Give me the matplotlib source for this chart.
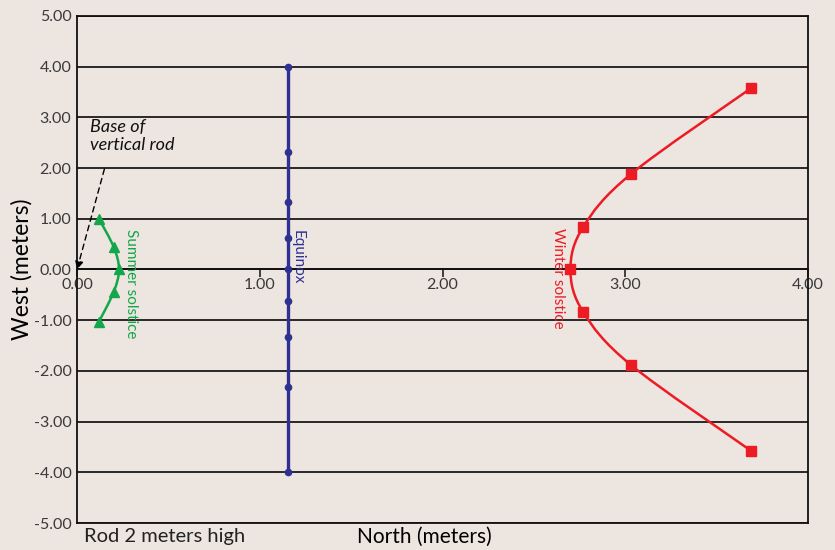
import matplotlib
matplotlib.use("Agg")
import matplotlib.pyplot as plt
import numpy as np
from matplotlib.path import Path
from matplotlib.patches import PathPatch

# shadow tip positions of a 2 m rod (x = north, y = west)
equinox_x = [1.155] * 9
equinox_y = [4.00, 2.31, 1.33, 0.62, 0.00, -0.62, -1.33, -2.31, -4.00]

summer_x = [0.12, 0.20, 0.23, 0.20, 0.12]
summer_y = [1.00, 0.45, 0.00, -0.45, -1.03]

winter_x = [3.69, 3.03, 2.77, 2.70, 2.77, 3.03, 3.69]
winter_y = [3.58, 1.88, 0.84, 0.00, -0.84, -1.88, -3.58]

y_ticks = list(range(-5, 6))
x_ticks = [0, 1, 2, 3, 4]

BG = '#ece5e0'
GREEN = '#14a64a'
RED = '#ed1c24'
NAVY = '#2e3192'
FONT = 'Lato'


def smooth_path(xs, ys):
    # Catmull-Rom style bezier through the points, drawn by matplotlib's Path
    pts = np.column_stack([xs, ys])
    verts = [pts[0]]
    codes = [Path.MOVETO]
    n = len(pts)
    for i in range(n - 1):
        p0 = pts[max(i - 1, 0)]
        p1 = pts[i]
        p2 = pts[i + 1]
        p3 = pts[min(i + 2, n - 1)]
        c1 = p1 + (p2 - p0) / 6.0
        c2 = p2 - (p3 - p1) / 6.0
        verts += [c1, c2, p2]
        codes += [Path.CURVE4] * 3
    return Path(verts, codes)


fig = plt.figure(figsize=(8.35, 5.5), dpi=100, facecolor=BG)
ax = fig.add_axes([0.0922, 0.049, 0.8755, 0.922])
ax.set_facecolor(BG)
ax.set_xlim(0, 4)
ax.set_ylim(-5, 5)

for sp in ax.spines.values():
    sp.set_color('#111111')
    sp.set_linewidth(1.3)
# x axis runs along the zero line, frame bottom kept as a line at -5
ax.spines['bottom'].set_position(('data', 0))
ax.axhline(-5, color='#111111', linewidth=1.3, clip_on=False, zorder=2)

ax.set_yticks(y_ticks)
ax.set_yticklabels([f'{v:.2f}' for v in y_ticks], fontfamily=FONT, fontsize=11.5, color='#3a3a3a')
ax.tick_params(axis='y', length=0, pad=4)

ax.set_xticks(x_ticks)
ax.set_xticklabels([f'{v:.2f}' for v in x_ticks], fontfamily=FONT, fontsize=11.5, color='#3a3a3a')
ax.tick_params(axis='x', length=6, width=1.2, direction='out', pad=0, color='#222222')

ax.grid(axis='y', color='#1a1a1a', linewidth=1.3)
ax.set_axisbelow(True)

# equinox
ax.plot(equinox_x, equinox_y, color=NAVY, linewidth=2.4, marker='o', markersize=4.5, zorder=3)

# summer solstice
ax.add_patch(PathPatch(smooth_path(summer_x, summer_y), facecolor='none', edgecolor=GREEN, linewidth=1.8, zorder=3))
ax.plot(summer_x, summer_y, linestyle='none', marker='^', markersize=7, color=GREEN, zorder=4)

# winter solstice
ax.add_patch(PathPatch(smooth_path(winter_x, winter_y), facecolor='none', edgecolor=RED, linewidth=1.8, zorder=3))
ax.plot(winter_x, winter_y, linestyle='none', marker='s', markersize=6.5, color=RED, zorder=4)

ax.text(0.295, -0.28, 'Summer solstice', rotation=270, color=GREEN, fontfamily=FONT,
        fontsize=11, ha='center', va='center')
ax.text(1.205, 0.25, 'Equinox', rotation=270, color=NAVY, fontfamily=FONT,
        fontsize=11, ha='center', va='center')
ax.text(2.63, -0.18, 'Winter solstice', rotation=270, color=RED, fontfamily=FONT,
        fontsize=11, ha='center', va='center')

ax.text(0.07, 2.63, 'Base of\nvertical rod', fontfamily=FONT, fontstyle='italic', fontsize=13,
        color='#111111', ha='left', va='center', linespacing=1.2)
ax.annotate('', xy=(0.0, 0.0), xytext=(0.15, 1.98),
            arrowprops=dict(arrowstyle='-|>', linestyle=(0, (4, 3)), color='black',
                            linewidth=1.0, mutation_scale=12, shrinkA=0, shrinkB=0))

fig.text(0.026, 0.511, 'West (meters)', rotation=90, fontfamily=FONT, fontsize=16.5,
         ha='center', va='center', color='black')
fig.text(0.508, 0.024, 'North (meters)', fontfamily=FONT, fontsize=15,
         ha='center', va='center', color='black')
fig.text(0.101, 0.024, 'Rod 2 meters high', fontfamily=FONT, fontsize=14.5,
         ha='left', va='center', color='#222222')

fig.savefig('out.png', dpi=100, facecolor=BG)
